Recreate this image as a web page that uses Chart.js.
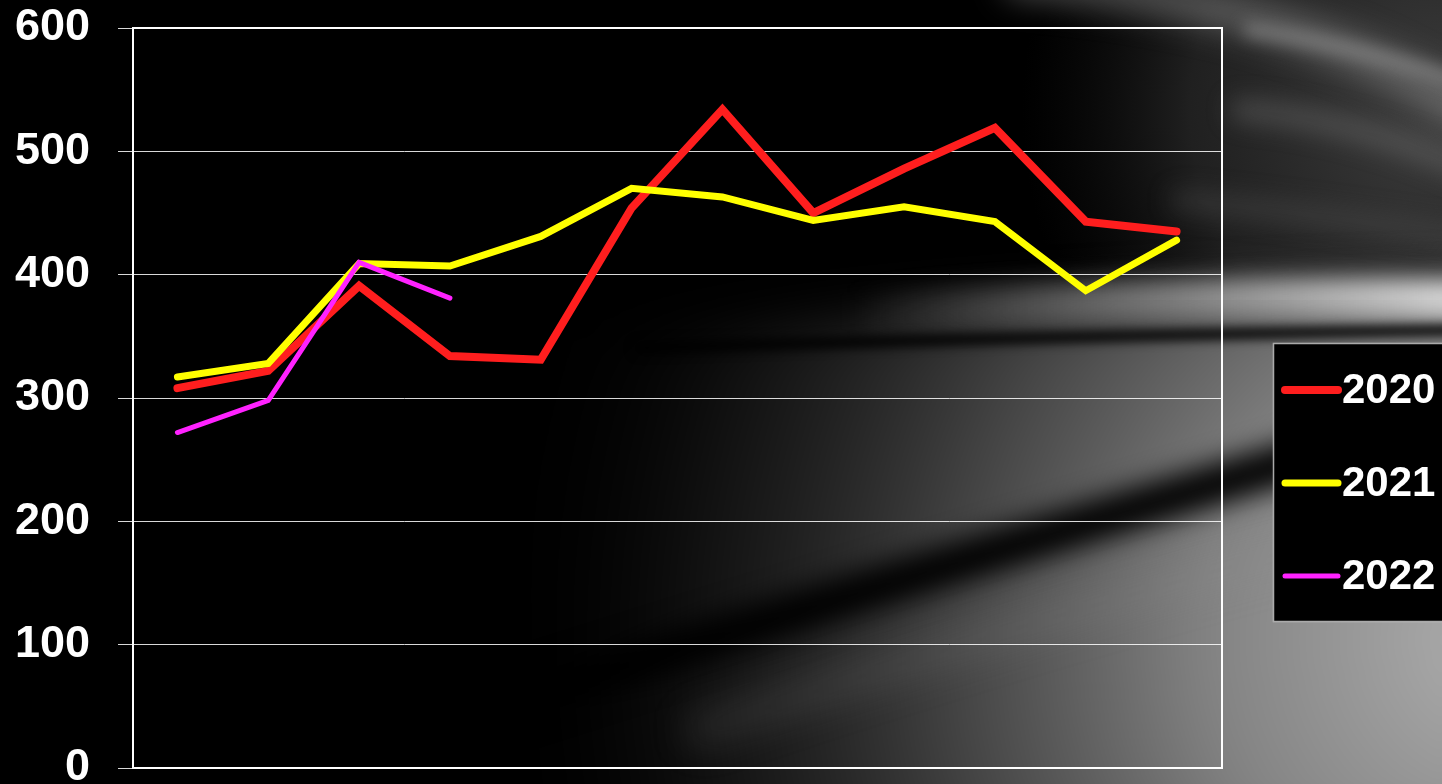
<!DOCTYPE html>
<html>
<head>
<meta charset="utf-8">
<script src="https://cdn.jsdelivr.net/npm/chart.js@4/dist/chart.umd.min.js"></script>
<style>
  html, body { margin: 0; padding: 0; background: #000; overflow: hidden; }
  canvas { display: block; }
</style>
</head>
<body>
<canvas id="year-chart" width="1442" height="784"></canvas>
<script>
// months (no labels are shown on the x axis)
const months = ['1', '2', '3', '4', '5', '6', '7', '8', '9', '10', '11', '12'];
const values2020 = [308, 322, 391, 334, 331, 454, 534, 450, 486, 519, 443, 435];
const values2021 = [317, 328, 409, 407, 431, 470, 463, 444, 455, 443, 387, 428];
const values2022 = [272, 298, 410, 381];
const yTicks = [0, 100, 200, 300, 400, 500, 600];

const labelFont = { family: "'Liberation Sans', Arial, sans-serif", size: 45, weight: 'bold' };

function streak(ctx, pts, width, color, blur) {
    ctx.filter = 'blur(' + blur + 'px)';
    ctx.strokeStyle = color;
    ctx.lineWidth = width;
    ctx.lineCap = 'round';
    ctx.beginPath();
    ctx.moveTo(pts[0], pts[1]);
    ctx.quadraticCurveTo(pts[2], pts[3], pts[4], pts[5]);
    ctx.stroke();
}

// grey swoosh picture behind everything
const backdrop = {
    id: 'backdrop',
    beforeDraw(chart) {
        const ctx = chart.ctx;
        const w = chart.width, h = chart.height;
        ctx.save();
        ctx.fillStyle = '#000';
        ctx.fillRect(0, 0, w, h);

        // dim grey in the top right corner
        let g = ctx.createRadialGradient(w, 110, 0, w, 110, 420);
        g.addColorStop(0, 'rgba(62,62,62,1)');
        g.addColorStop(0.6, 'rgba(40,40,40,0.8)');
        g.addColorStop(1, 'rgba(20,20,20,0)');
        ctx.fillStyle = g;
        ctx.fillRect(900, 0, w - 900, 300);

        // light streaks up there
        streak(ctx, [1020, -20, 1300, 0, w + 40, 120], 34, 'rgba(150,150,150,0.5)', 16);
        streak(ctx, [1250, 30, 1380, 50, w + 40, 90], 14, 'rgba(170,170,170,0.45)', 8);
        streak(ctx, [1240, 110, 1360, 120, w + 40, 175], 20, 'rgba(120,120,120,0.45)', 12);
        streak(ctx, [1180, 200, 1330, 215, w + 40, 240], 18, 'rgba(90,90,90,0.4)', 12);

        // lower right grey wedge, brightest in the corner
        ctx.filter = 'blur(26px)';
        g = ctx.createRadialGradient(w + 60, 640, 0, w + 60, 640, 1000);
        g.addColorStop(0, 'rgba(175,175,175,1)');
        g.addColorStop(0.3, 'rgba(130,130,130,1)');
        g.addColorStop(0.55, 'rgba(75,75,75,0.9)');
        g.addColorStop(0.8, 'rgba(30,30,30,0.6)');
        g.addColorStop(1, 'rgba(0,0,0,0)');
        ctx.fillStyle = g;
        ctx.beginPath();
        ctx.moveTo(520, 345);
        ctx.quadraticCurveTo(1000, 300, w + 60, 290);
        ctx.lineTo(w + 60, h + 60);
        ctx.lineTo(560, h + 60);
        ctx.closePath();
        ctx.fill();

        // bright band just above the dark streak
        g = ctx.createLinearGradient(850, 0, w, 0);
        g.addColorStop(0, 'rgba(170,170,170,0)');
        g.addColorStop(0.45, 'rgba(170,170,170,0.55)');
        g.addColorStop(1, 'rgba(220,220,220,0.95)');
        streak(ctx, [860, 312, 1150, 292, w + 40, 300], 38, g, 11);

        // thin dark streak
        streak(ctx, [640, 348, 1050, 336, w + 40, 330], 13, 'rgba(0,0,0,0.8)', 5);

        // wide dark diagonal
        streak(ctx, [470, 715, 940, 565, w + 40, 405], 42, 'rgba(0,0,0,0.95)', 13);

        // faint lighter streak under the diagonal
        streak(ctx, [700, 730, 1050, 610, w + 40, 500], 30, 'rgba(150,150,150,0.18)', 18);

        ctx.restore();
    }
};

// white frame round the plot
const frame = {
    id: 'frame',
    beforeDatasetsDraw(chart) {
        const { ctx, chartArea: a } = chart;
        ctx.save();
        ctx.strokeStyle = '#ffffff';
        ctx.lineWidth = 2;
        ctx.strokeRect(a.left + 1, a.top, a.right - a.left - 1, a.bottom - a.top);
        ctx.restore();
    }
};

// boxed legend on the right
const sideLegend = {
    id: 'sideLegend',
    afterDraw(chart) {
        const ctx = chart.ctx;
        ctx.save();
        ctx.fillStyle = '#000';
        ctx.fillRect(1273, 343, 200, 279);
        ctx.strokeStyle = 'rgba(200,200,200,0.85)';
        ctx.lineWidth = 1.5;
        ctx.strokeRect(1273.5, 343.5, 200, 278);
        const rows = [390, 483, 576];
        chart.data.datasets.forEach((ds, i) => {
            const y = rows[i];
            ctx.strokeStyle = ds.borderColor;
            ctx.lineWidth = ds.borderWidth;
            ctx.lineCap = 'round';
            ctx.beginPath();
            ctx.moveTo(1285, y);
            ctx.lineTo(1338, y);
            ctx.stroke();
            ctx.fillStyle = '#ffffff';
            ctx.font = "bold 42px 'Liberation Sans', Arial, sans-serif";
            ctx.textAlign = 'left';
            ctx.textBaseline = 'middle';
            ctx.fillText(ds.label, 1342, y + 1);
        });
        ctx.restore();
    }
};

const ctx = document.getElementById('year-chart');

const year_chart = new Chart(ctx, {
    type: 'line',
    data: {
        labels: months,
        datasets: [{
            label: '2020',
            data: values2020,
            borderColor: '#ff1e1e',
            borderWidth: 8,
            order: 3
        }, {
            label: '2021',
            data: values2021,
            borderColor: '#ffff00',
            borderWidth: 7,
            order: 2
        }, {
            label: '2022',
            data: values2022,
            borderColor: '#ff22ff',
            borderWidth: 5,
            order: 1
        }]
    },
    options: {
        responsive: false,
        animation: false,
        devicePixelRatio: 1,
        layout: {
            padding: { top: 28, right: 220, bottom: 16, left: 0 }
        },
        elements: {
            point: { radius: 0, hoverRadius: 0 },
            line: { tension: 0, borderCapStyle: 'round', borderJoinStyle: 'miter', fill: false }
        },
        plugins: {
            legend: { display: false },
            tooltip: { enabled: false }
        },
        scales: {
            x: {
                display: false,
                offset: true
            },
            y: {
                min: 0,
                max: 600,
                afterBuildTicks(scale) {
                    scale.ticks = yTicks.map(v => ({ value: v }));
                },
                afterFit(scale) {
                    scale.width = 132;
                    scale.paddingTop = 0;
                    scale.paddingBottom = 0;
                },
                border: { display: false },
                grid: {
                    color: 'rgba(255,255,255,0.85)',
                    lineWidth: 1,
                    tickLength: 14
                },
                ticks: {
                    color: '#ffffff',
                    font: labelFont,
                    padding: 28
                }
            }
        }
    },
    plugins: [backdrop, frame, sideLegend]
});
</script>
</body>
</html>
